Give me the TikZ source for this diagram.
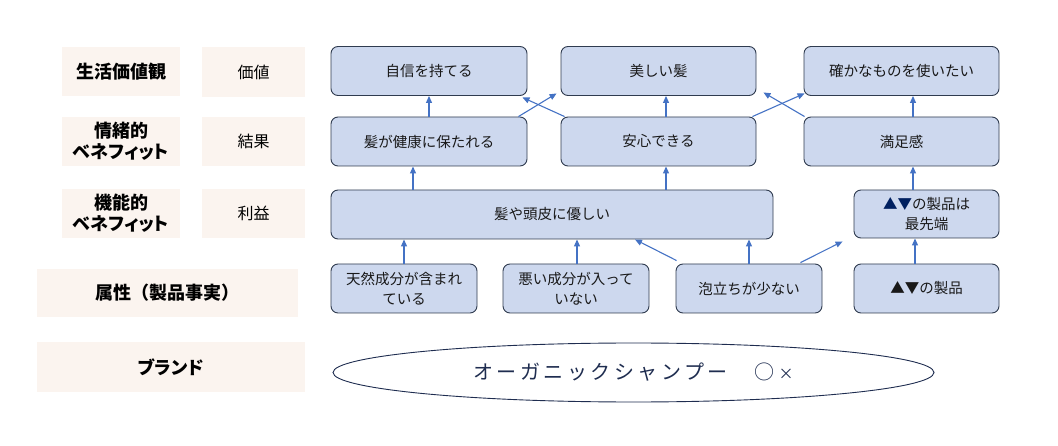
\documentclass[tikz,border=0pt]{standalone}
\usepackage{fontspec}
\setmainfont{Noto Sans CJK JP}
\newfontfamily\jpp[RawFeature=+palt]{Noto Sans CJK JP}
\newfontfamily\jpls[LetterSpace=17.5]{Noto Sans CJK JP}
\usetikzlibrary{arrows.meta,shapes.geometric}
\definecolor{boxfill}{HTML}{CDD8EE}
\definecolor{boxline}{HTML}{2F3B4F}
\definecolor{labfill}{HTML}{FBF4EF}
\definecolor{arrowc}{HTML}{4472C4}
\definecolor{navy}{HTML}{1F2D50}
\definecolor{navytri}{HTML}{002060}
\begin{document}
\begin{tikzpicture}[x=1pt,y=-1pt,
  bbox/.style={draw=boxline, fill=boxfill, line width=0.9pt, rounded corners=7pt, inner sep=0pt, align=center, font=\fontsize{14.5}{20}\selectfont, text=black!90},
  lab/.style={fill=labfill, inner sep=0pt, align=center},
  labb/.style={lab, font=\fontsize{18}{21}\selectfont\bfseries},
  labr/.style={lab, font=\fontsize{16}{20}\selectfont},
  arr/.style={draw=arrowc, line width=1.1pt, -{Triangle[length=7pt,width=6pt]}},
]
\useasboundingbox (0,0) rectangle (1058,446);

% left labels
\node[labb, minimum width=118pt, minimum height=49pt] (l1a) at (121,71.5) {生活価値観};
\node[labr, minimum width=103pt, minimum height=50pt] (l1b) at (253.5,72) {価値};
\node[labb, minimum width=118pt, minimum height=49pt] (l2a) at (121,141.5) {情緒的\\{\jpp ベネフィット}};
\node[labr, minimum width=103pt, minimum height=49pt] (l2b) at (253.5,141.5) {結果};
\node[labb, minimum width=118pt, minimum height=49pt] (l3a) at (121,213.5) {機能的\\{\jpp ベネフィット}};
\node[labr, minimum width=103pt, minimum height=49pt] (l3b) at (253.5,213.5) {利益};
\node[labb, minimum width=261pt, minimum height=48pt] (l4) at (167.5,293) {属性（製品事実）};
\node[labb, minimum width=268pt, minimum height=50pt] (l5) at (171,367) {\jpp ブランド};

% row 1
\node[bbox, minimum width=196pt, minimum height=49pt] (jishin) at (429,71) {自信を持てる};
\node[bbox, minimum width=195pt, minimum height=49pt] (utsu) at (658.5,71) {美しい髪};
\node[bbox, minimum width=195pt, minimum height=49pt] (tashika) at (901.5,71) {確かなものを使いたい};
% row 2
\node[bbox, minimum width=196pt, minimum height=49pt] (kenkou) at (429,141.5) {髪が健康に保たれる};
\node[bbox, minimum width=195pt, minimum height=49pt] (anshin) at (658.5,141.5) {安心できる};
\node[bbox, minimum width=195pt, minimum height=49pt] (manzoku) at (901.5,141.5) {満足感};
% row 3
\node[bbox, minimum width=442pt, minimum height=49pt] (yasashii) at (552,214.5) {髪や頭皮に優しい};
\node[bbox, minimum width=145pt, minimum height=48pt] (saisen) at (926.5,214) {{\color{navytri}▲▼}の製品は\\最先端};
% row 4
\node[bbox, minimum width=146pt, minimum height=49pt] (tennen) at (404,288.5) {天然成分が含まれ\\ている};
\node[bbox, minimum width=146pt, minimum height=49pt] (warui) at (576,288.5) {悪い成分が入って\\いない};
\node[bbox, minimum width=146pt, minimum height=49pt] (awa) at (749,288.5) {泡立ちが少ない};
\node[bbox, minimum width=145pt, minimum height=49pt] (seihin) at (926.5,288.5) {▲▼の製品};
% brand ellipse
\node[ellipse, draw=navy, fill=white, line width=0.9pt, inner sep=0pt, minimum width=601pt, minimum height=59pt, text=navy, font=\fontsize{20}{24}\selectfont] (brand) at (633.5,372.5) {{\jpls オーガニックシャンプー}\hspace{27pt}○\hspace{4pt}{\fontsize{15}{18}\selectfont ×}};

% arrows
\draw[arr] (kenkou.north) -- (jishin.south);
\draw[arr] (413,0 |- yasashii.north) -- (413,0 |- kenkou.south);
\draw[arr] (666,0 |- yasashii.north) -- (666,0 |- anshin.south);
\draw[arr] (666,0 |- anshin.north) -- (666,0 |- utsu.south);
\draw[arr] ([xshift=-9pt]kenkou.north east) -- ([xshift=-4pt,yshift=2.5pt]utsu.south west);
\draw[arr] ([xshift=4pt]anshin.north west) -- ([xshift=-5pt,yshift=-1.5pt]jishin.south east);
\draw[arr] ([xshift=-4pt]anshin.north east) -- ([xshift=1pt,yshift=2.5pt]tashika.south west);
\draw[arr] ([xshift=1pt]manzoku.north west) -- ([xshift=7pt,yshift=3.5pt]utsu.south east);
\draw[arr] (913,0 |- manzoku.north) -- (913,0 |- tashika.south);
\draw[arr] (913,0 |- saisen.north) -- (913,0 |- manzoku.south);
\draw[arr] (915,0 |- seihin.north) -- (915,0 |- saisen.south);
\draw[arr] (tennen.north) -- (tennen.north |- yasashii.south);
\draw[arr] (577,0 |- warui.north) -- (577,0 |- yasashii.south);
\draw[arr] ([xshift=1pt,yshift=3pt]awa.north west) -- (635,0 |- yasashii.south);
\draw[arr] (awa.north) -- (awa.north |- yasashii.south);
\draw[arr] ([xshift=-22pt,yshift=1pt]awa.north east) -- ([xshift=-11pt,yshift=-3pt]saisen.south west);
\end{tikzpicture}
\end{document}
